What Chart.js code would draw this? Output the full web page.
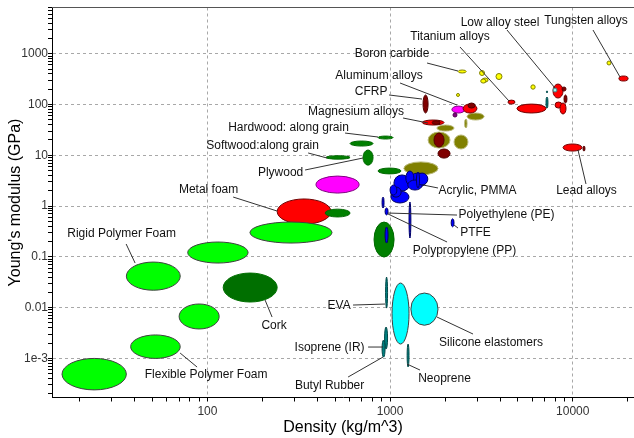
<!DOCTYPE html>
<html>
<head>
<meta charset="utf-8">
<style>
    html, body { margin: 0; padding: 0; background: #fff; }
    #wrap { width: 634px; height: 438px; }
</style>
</head>
<body>
<div id="wrap"><canvas id="ashbyChart"></canvas></div>
<script src="https://cdn.jsdelivr.net/npm/chart.js@4.4.1/dist/chart.umd.min.js"></script>
<script>
// ===== DATA =====
// each bubble spans a density range (kg/m^3) and a modulus range (GPa)
const materialNames = [
    "Flexible polymer foam (VLD)", "Flexible polymer foam (LD)", "Flexible polymer foam (MD)",
    "Rigid polymer foam (LD)", "Rigid polymer foam (MD)", "Cork", "Metal foam",
    "Rigid polymer foam (HD)", "Wood, transverse", "Natural fibre mat", "Plywood",
    "Softwood: along grain", "Softwood: along grain (HD)", "Hardwood: along grain",
    "Hardwood: across grain", "Fibreboard", "Wood-polymer foam", "Polypropylene (PP)",
    "Acrylic, PMMA", "Polycarbonate", "ABS", "Polyamide", "Polystyrene", "PET", "PEEK",
    "Epoxy", "Ionomer", "Polyethylene (HDPE)", "Polyethylene (PE)", "PVC", "PTFE",
    "EVA", "Polyurethane elastomer", "Silicone elastomers", "Isoprene (IR)", "Butyl Rubber",
    "Neoprene", "CFRP", "Magnesium alloys", "Magnesium alloys (cast)", "GFRP", "Bone",
    "Concrete", "Stone", "Brick", "Glass fibre", "Glass", "Aluminium foil", "Aluminum alloys",
    "Aluminium (cast)", "Beryllium", "Silicon", "Boron carbide", "Silicon carbide",
    "Alumina", "Aluminium nitride", "Zirconia", "Boron nitride", "Tungsten carbide",
    "Titanium alloys", "Nickel alloys", "Stainless steel", "Carbon steel", "Low alloy steel",
    "Copper alloys", "Brass", "Cast iron", "Bronze", "Nickel", "Lead alloys", "Lead",
    "Tungsten alloys"
];
const materialFamily = [
    "foam", "foam", "foam", "foam", "foam", "cork", "metal",
    "foam", "wood", "magenta", "wood",
    "wood", "wood", "wood",
    "wood", "olive", "wood", "polymer",
    "polymer", "polymer", "polymer", "polymer", "polymer", "polymer", "polymer",
    "polymer", "polymer", "polymer", "polymer", "polymer", "polymer",
    "teal", "elastomer", "elastomer", "teal", "teal",
    "teal", "darkred", "metal", "darkred", "olive", "olive",
    "darkred", "olive", "darkred", "olive", "olive", "magenta", "metal",
    "darkred", "purple", "ceramic", "ceramic", "ceramic",
    "ceramic", "ceramic", "ceramic", "ceramic", "ceramic",
    "metal", "metal", "metal", "darkred", "steel",
    "teal", "teal", "metal", "metal", "darkred", "metal", "darkred",
    "metal"
];
const densityMin = [
    16, 38, 70, 36, 78, 122, 241,
    171, 441, 393, 711,
    446, 604, 859,
    859, 1190, 817, 939,
    1050, 1270, 1010, 1220, 1010, 1250, 1390,
    1395, 1000, 904, 939, 1270, 2160,
    945, 1025, 1300, 933, 904,
    1240, 1515, 1500, 1700, 1805, 1615,
    1740, 2240, 1830, 2560, 2640, 2180, 2510,
    2670, 2210, 2310, 2360, 3090,
    3190, 3135, 3800, 5900, 15400,
    4420, 4950, 7800, 8740, 7800,
    7140, 7180, 8000, 8520, 8960, 8850, 11380,
    17900
];
const densityMax = [
    36, 71, 116, 71, 167, 241, 475,
    481, 604, 677, 807,
    604, 807, 1038,
    1148, 1830, 1052, 975,
    1290, 1590, 1270, 1350, 1150, 1500, 1610,
    1450, 1090, 927, 975, 1300, 2240,
    969, 1270, 1830, 969, 939,
    1270, 1615, 1975, 1880, 2240, 2130,
    1975, 2670, 2130, 2640, 3270, 2570, 2990,
    2920, 2325, 2400, 2610, 3290,
    3440, 3350, 4100, 6230, 16200,
    4830, 7140, 8850, 9190, 8200,
    7320, 7280, 8740, 9190, 9300, 11240, 11670,
    20100
];
const modulusMin = [
    2.4e-4, 1.0e-3, 3.8e-3, 0.022, 0.0755, 0.0129, 0.44,
    0.187, 0.61, 1.8, 6.4,
    8.4, 15.2, 20.9,
    4.3, 4.1, 0.099, 0.187,
    1.98, 2.37, 1.15, 2.6, 1.5, 2.07, 2.6,
    2.27, 1.65, 0.915, 0.67, 0.235, 0.39,
    0.0098, 1.92e-3, 4.5e-3, 1.53e-3, 1.06e-3,
    6.8e-4, 68, 39.4, 40.5, 30, 13.9,
    14.5, 13.3, 8.8, 34.4, 49.5, 68, 68,
    85, 56.7, 144, 417, 372,
    277, 264, 310, 200, 600,
    102, 68, 134, 184, 176,
    85, 170, 85, 65, 107, 12.1, 12.1,
    290
];
const modulusMax = [
    1.0e-3, 2.9e-3, 0.0118, 0.079, 0.196, 0.048, 1.38,
    0.485, 0.87, 3.9, 12.7,
    9.8, 19.1, 23.9,
    5.6, 7.4, 0.485, 0.387,
    4.1, 4.47, 1.98, 4.9, 2.37, 3.26, 4.47,
    4.68, 2.6, 1.5, 0.915, 1.2, 0.56,
    0.040, 0.0305, 0.0194, 4.15e-3, 2.3e-3,
    1.92e-3, 154, 49.5, 48, 39.4, 28.7,
    27.4, 25.1, 13.3, 51.8, 68, 93, 102,
    107, 67.9, 165, 478, 467,
    332, 317, 408, 244, 718,
    122, 102, 253, 221, 211,
    140, 185, 112, 107, 154, 16.7, 15.2,
    364
];

// axis ranges and decade tick labels
const densityRange = [14.1, 21650];
const modulusRange = [1.7e-4, 8130];
const xTickValues = [100, 1000, 10000];
const xTickLabels = ["100", "1000", "10000"];
const yTickValues = [0.001, 0.01, 0.1, 1, 10, 100, 1000];
const yTickLabels = ["1e-3", "0.01", "0.1", "1", "10", "100", "1000"];

// callouts: text centre, leader start, leader end (density, modulus)
const labelText = [
    "Tungsten alloys", "Low alloy steel", "Titanium alloys", "Boron carbide",
    "Aluminum alloys", "CFRP", "Magnesium alloys", "Hardwood: along grain",
    "Softwood:along grain", "Plywood", "Metal foam", "Acrylic, PMMA",
    "Polyethylene (PE)", "PTFE", "Polypropylene (PP)", "Rigid Polymer Foam",
    "Cork", "Flexible Polymer Foam", "EVA", "Isoprene (IR)", "Butyl Rubber",
    "Neoprene", "Silicone elastomers", "Lead alloys"
];
const labelAt = [
    [11820, 4406], [4000, 4023], [2130, 2133], [1025, 987],
    [870, 364], [787, 176], [651, 71.1], [278, 34.4],
    [200.5, 15.2], [251.5, 4.47], [101.5, 2.07], [3012, 1.98],
    [4340, 0.666], [2937, 0.294], [2556, 0.130], [33.9, 0.281],
    [231.8, 4.34e-3], [98.4, 4.71e-4], [526, 0.01075], [466.6, 1.6e-3], [466.6, 2.86e-4],
    [1987, 3.93e-4], [3569, 2.01e-3], [11895, 1.98]
];
const leaderFrom = [
    [12910, 2930], [4367, 2930], [2415, 1355], [1594, 656],
    [1134, 265], [987, 154], [1178, 54.2], [567, 27.4],
    [356, 11.1], [342.5, 5.13], [138.3, 1.507], [1515, 2.6],
    [975, 0.729], [2240, 0.423], [975, 0.697], [35.9, 0.179],
    [206.9, 0.0141], [70.9, 1.276e-3], [627, 0.01125], [758, 1.675e-3], [589, 4.3e-4],
    [1238, 7.75e-4], [1807, 6.53e-3], [10690, 12.7]
];
const leaderTo = [
    [18150, 348], [8000, 211], [4479, 117], [2356, 456],
    [2326, 97.7], [1496, 128], [1614, 43.2], [859, 22.9],
    [452, 8.83], [711, 8.83], [240.7, 0.799], [1830, 2.27],
    [2326, 0.666], [2356, 0.369], [2051, 0.196], [40.2, 0.0755],
    [226, 6.53e-3], [87.8, 6.76e-4], [939, 0.01177], [915, 1.675e-3], [915, 1.064e-3],
    [1459, 5.9e-4], [2846, 3.02e-3], [11820, 2.72]
];

// ===== STYLE =====
const FONT = "'Liberation Sans', Arial, sans-serif";
const familyFill = {
    foam: "#00ff00", cork: "#006f00", wood: "#008000", metal: "#ff0000",
    darkred: "#800000", magenta: "#ff00ff", purple: "#800080", olive: "#808000",
    polymer: "#0000ff", ceramic: "#ffff00", elastomer: "#00ffff", teal: "#008080",
    steel: "#9ff5f5"
};
const familyStroke = {
    foam: "#404040", cork: "#006f00", wood: "#006800", metal: "#700000",
    darkred: "#500000", magenta: "#800080", purple: "#500050", olive: "#b8b878",
    polymer: "#000060", ceramic: "#808000", elastomer: "#404040", teal: "#004848",
    steel: "#408080"
};

// ===== HELPERS =====
function isDecade(v) {
    const l = Math.log10(v);
    return Math.abs(l - Math.round(l)) < 1e-9;
}

function logTicks(min, max) {
    const ticks = [];
    for (let e = Math.floor(Math.log10(min)); e <= Math.ceil(Math.log10(max)); e++) {
        for (let m = 1; m <= 9; m++) {
            const v = Number((m * Math.pow(10, e)).toPrecision(12));
            if (v >= min && v <= max) ticks.push({ value: v, major: m === 1 });
        }
    }
    return ticks;
}

function tickLabel(value, values, labels) {
    const i = values.findIndex((t) => Math.abs(value - t) / t < 1e-9);
    return i >= 0 ? labels[i] : "";
}

// ===== PLUGINS =====
const ellipsePlugin = {
    id: "rangeEllipses",
    beforeDatasetsDraw(chart) {
        const { ctx, chartArea, scales } = chart;
        ctx.save();
        ctx.beginPath();
        ctx.rect(chartArea.left, chartArea.top, chartArea.width, chartArea.height);
        ctx.clip();
        materialNames.forEach((name, i) => {
            const x0 = scales.x.getPixelForValue(densityMin[i]);
            const x1 = scales.x.getPixelForValue(densityMax[i]);
            const y0 = scales.y.getPixelForValue(modulusMax[i]);
            const y1 = scales.y.getPixelForValue(modulusMin[i]);
            ctx.beginPath();
            ctx.ellipse((x0 + x1) / 2, (y0 + y1) / 2,
                Math.max((x1 - x0) / 2, 0.6), Math.max((y1 - y0) / 2, 0.6), 0, 0, Math.PI * 2);
            ctx.fillStyle = familyFill[materialFamily[i]];
            ctx.fill();
            ctx.lineWidth = 1;
            ctx.strokeStyle = familyStroke[materialFamily[i]];
            ctx.stroke();
        });
        ctx.restore();
    },
};

const calloutPlugin = {
    id: "callouts",
    afterDatasetsDraw(chart) {
        const { ctx, scales } = chart;
        const px = (p) => [scales.x.getPixelForValue(p[0]), scales.y.getPixelForValue(p[1])];
        ctx.save();
        ctx.strokeStyle = "#333";
        ctx.lineWidth = 1;
        labelText.forEach((text, i) => {
            const a = px(leaderFrom[i]);
            const b = px(leaderTo[i]);
            ctx.beginPath();
            ctx.moveTo(a[0], a[1]);
            ctx.lineTo(b[0], b[1]);
            ctx.stroke();
        });
        ctx.fillStyle = "#111";
        ctx.font = "12px " + FONT;
        ctx.textAlign = "center";
        ctx.textBaseline = "middle";
        labelText.forEach((text, i) => {
            const t = px(labelAt[i]);
            ctx.fillText(text, t[0], t[1]);
        });
        ctx.restore();
    },
};

const frameTopPlugin = {
    id: "frameTop",
    afterDraw(chart) {
        const { ctx, chartArea } = chart;
        ctx.save();
        ctx.strokeStyle = "#555";
        ctx.lineWidth = 1;
        ctx.beginPath();
        ctx.moveTo(chartArea.left, chartArea.top);
        ctx.lineTo(chartArea.right, chartArea.top);
        ctx.stroke();
        ctx.restore();
    },
};

// ===== CHART =====
function axisGrid() {
    return {
        color: (c) => (c.tick && isDecade(c.tick.value) ? "#a8a8a8" : "rgba(0,0,0,0)"),
        lineWidth: 1,
        tickColor: "#000",
        tickLength: 4,
        drawTicks: true,
    };
}

Chart.defaults.font.family = FONT;

new Chart(document.getElementById("ashbyChart"), {
    type: "scatter",
    data: {
        datasets: [
            {
                label: "Materials",
                data: materialNames.map((n, i) => ({
                    x: Math.sqrt(densityMin[i] * densityMax[i]),
                    y: Math.sqrt(modulusMin[i] * modulusMax[i]),
                })),
                pointRadius: 0,
                pointHoverRadius: 0,
            },
        ],
    },
    options: {
        responsive: true,
        maintainAspectRatio: false,
        animation: false,
        events: [],
        layout: { padding: { top: 7.5, right: 0, bottom: 0, left: 0 } },
        plugins: {
            legend: { display: false },
            tooltip: { enabled: false },
        },
        scales: {
            x: {
                type: "logarithmic",
                min: densityRange[0],
                max: densityRange[1],
                afterBuildTicks: (scale) => { scale.ticks = logTicks(scale.min, scale.max); },
                afterFit: (scale) => { scale.height = 40.5; },
                ticks: {
                    autoSkip: false,
                    maxRotation: 0,
                    padding: 3,
                    color: "#333",
                    font: { size: 12 },
                    callback: (v) => tickLabel(v, xTickValues, xTickLabels),
                },
                grid: axisGrid(),
                border: { display: true, color: "#000", width: 1, dash: [3, 3] },
                title: {
                    display: true,
                    text: "Density (kg/m^3)",
                    color: "#000",
                    font: { size: 16 },
                    padding: { top: 0, bottom: 1 },
                },
            },
            y: {
                type: "logarithmic",
                min: modulusRange[0],
                max: modulusRange[1],
                afterBuildTicks: (scale) => { scale.ticks = logTicks(scale.min, scale.max); },
                afterFit: (scale) => { scale.width = 52; },
                ticks: {
                    autoSkip: false,
                    padding: 0,
                    color: "#333",
                    font: { size: 12 },
                    callback: (v) => tickLabel(v, yTickValues, yTickLabels),
                },
                grid: axisGrid(),
                border: { display: true, color: "#000", width: 1, dash: [3, 3] },
                title: {
                    display: true,
                    text: "Young's modulus (GPa)",
                    color: "#000",
                    font: { size: 16 },
                    padding: { top: 6, bottom: 0 },
                },
            },
        },
    },
    plugins: [ellipsePlugin, calloutPlugin, frameTopPlugin],
});
</script>
</body>
</html>
